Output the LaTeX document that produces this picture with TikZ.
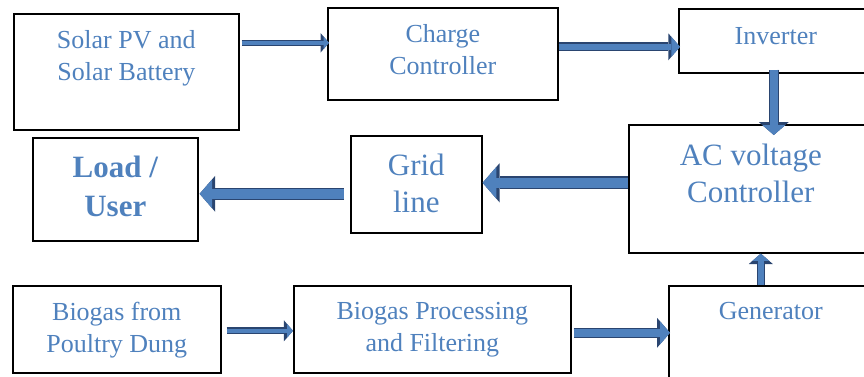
\documentclass[tikz,border=0pt]{standalone}
\usepackage{fontspec}
\setmainfont{Liberation Serif}
\usetikzlibrary{arrows.meta,positioning}
\definecolor{txtblue}{HTML}{4F81BD}
\definecolor{flowfill}{HTML}{4F81BD}
\definecolor{flowline}{HTML}{2A4570}

\begin{document}
\begin{tikzpicture}[
    x=1pt, y=1pt,
    box/.style={draw, line width=1.6pt, anchor=north west, inner sep=0pt},
    txt/.style={text=txtblue, align=center, inner sep=0pt, font=\fontsize{26}{32}\selectfont},
    bigtxt/.style={txt, font=\fontsize{31}{37}\selectfont},
    flow/.style={line width=#1-2.4pt, draw=flowfill,
        -{Triangle[length=0pt 1.3, width=0pt 3, line width=0pt, fill=flowfill]},
        preaction={draw=flowline, line width=#1,
            -{Triangle[length=0pt 1.3, width=0pt 3, line width=0pt, fill=flowline]}}}
]
\useasboundingbox (0,0) rectangle (864,-376);

% top row
\node[box, minimum width=225, minimum height=116,
      label={[txt, below=17pt]north:{Solar PV and\\Solar Battery}}] (solar) at (13,-13) {};
\node[box, minimum width=230, minimum height=92,
      label={[txt, below=17pt]north:{Charge\\Controller}}] (charge) at (327,-7) {};
\node[box, minimum width=194, minimum height=64,
      label={[txt, below=19pt]north:{Inverter}}] (inverter) at (678,-8) {};

% middle row
\node[box, minimum width=244, minimum height=128,
      label={[bigtxt, below=20pt]north:{AC voltage\\Controller}}] (ac) at (628,-124) {};
\node[box, minimum width=131, minimum height=97,
      label={[bigtxt, below=19pt]north:{Grid\\line}}] (grid) at (350,-135) {};
\node[box, minimum width=165, minimum height=103,
      label={[bigtxt, below=19pt, font=\fontsize{31}{39}\selectfont\bfseries]north:{Load /\\User}}] (load) at (32,-137) {};

% bottom row
\node[box, minimum width=208, minimum height=87,
      label={[txt, below=17pt]north:{Biogas from\\Poultry Dung}}] (biogas) at (12,-285) {};
\node[box, minimum width=277, minimum height=87,
      label={[txt, below=17pt]north:{Biogas Processing\\and Filtering}}] (proc) at (293,-285) {};
\node[box, minimum width=204, minimum height=95,
      label={[txt, below=17pt]north:{Generator}}] (gen) at (668,-285) {};

% block arrows
\draw[flow=6.5pt] ([xshift=2pt,yshift=29pt]solar.east) -- ([xshift=2pt,yshift=29pt]solar.east -| charge.west);
\draw[flow=9pt] ([yshift=7pt]charge.east) -- ([xshift=2pt,yshift=7pt]charge.east -| inverter.west);
\draw[flow=10pt] ([xshift=-2pt,yshift=4pt]inverter.south) -- ([xshift=-2pt,yshift=-11pt]inverter.south |- ac.north);
\draw[flow=13pt] ([yshift=6pt]ac.west) -- ([yshift=6pt]ac.west -| grid.east);
\draw[flow=12pt] ([xshift=-6pt,yshift=-9.5pt]grid.west) -- ([xshift=1pt,yshift=-9.5pt]grid.west -| load.east);
\draw[flow=7pt] ([xshift=5pt,yshift=-1.5pt]biogas.east) -- ([yshift=-1.5pt]biogas.east -| proc.west);
\draw[flow=10pt] ([xshift=2pt,yshift=-3.5pt]proc.east) -- ([xshift=2pt,yshift=-3.5pt]proc.east -| gen.west);
\draw[flow=8pt] ([xshift=-10pt]gen.north) -- ([xshift=-10pt]gen.north |- ac.south);
\end{tikzpicture}
\end{document}
